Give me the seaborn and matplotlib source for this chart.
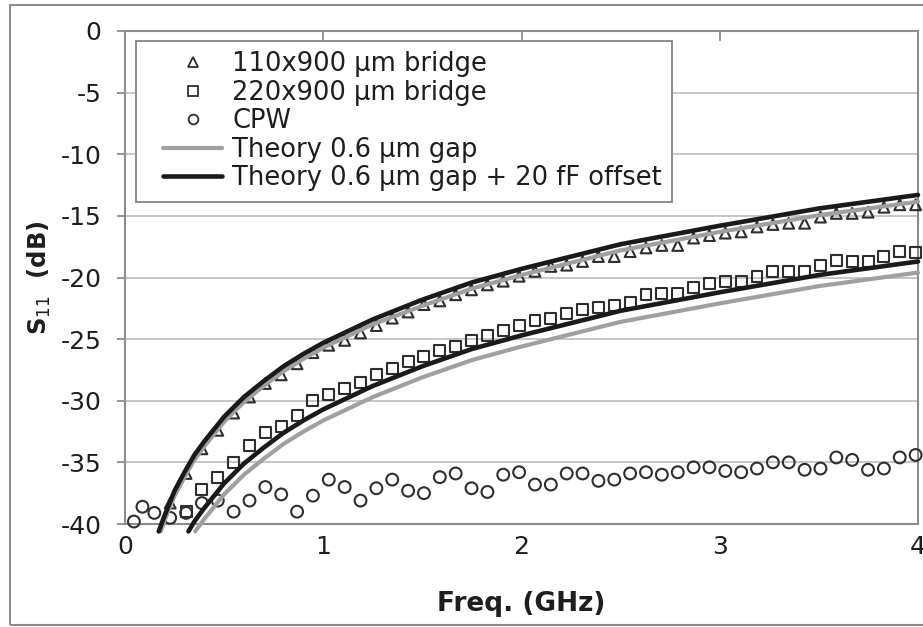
import numpy as np
import matplotlib
matplotlib.use("Agg")
import matplotlib.pyplot as plt
from matplotlib.lines import Line2D
from matplotlib.patches import Rectangle
from matplotlib.legend_handler import HandlerLine2D
import seaborn as sns

# Measurement sweep (GHz)
freq_ghz = [0.045, 0.088, 0.148, 0.228, 0.308, 0.388, 0.468, 0.548, 0.628, 0.708,
            0.788, 0.868, 0.948, 1.028, 1.108, 1.188, 1.268, 1.348, 1.428, 1.508,
            1.588, 1.668, 1.748, 1.828, 1.908, 1.988, 2.068, 2.148, 2.228, 2.308,
            2.388, 2.468, 2.548, 2.628, 2.708, 2.788, 2.868, 2.948, 3.028, 3.108,
            3.188, 3.268, 3.348, 3.428, 3.508, 3.588, 3.668, 3.748, 3.828, 3.908,
            3.988]

nan = np.nan
# Measured S11 (dB)
s11_bridge_110 = [nan, nan, nan, -38.3, -35.9, -33.9, -32.4, -31.0, -29.7, -28.6,
                  -27.9, -27.0, -26.1, -25.5, -25.1, -24.5, -23.9, -23.3, -22.8, -22.2,
                  -21.9, -21.4, -21.0, -20.6, -20.3, -19.9, -19.5, -19.1, -19.0, -18.7,
                  -18.3, -18.3, -17.9, -17.6, -17.4, -17.4, -16.8, -16.6, -16.4, -16.3,
                  -15.9, -15.7, -15.6, -15.6, -15.1, -14.8, -14.8, -14.7, -14.3, -14.1,
                  -14.1]
s11_bridge_220 = [nan, nan, nan, nan, -39.0, -37.2, -36.2, -35.0, -33.6, -32.6,
                  -32.1, -31.2, -30.0, -29.5, -29.0, -28.5, -27.9, -27.4, -26.8, -26.4,
                  -25.9, -25.6, -25.1, -24.7, -24.3, -23.9, -23.5, -23.3, -22.9, -22.6,
                  -22.4, -22.3, -22.0, -21.4, -21.3, -21.3, -20.8, -20.5, -20.3, -20.3,
                  -19.9, -19.5, -19.5, -19.5, -19.0, -18.6, -18.7, -18.7, -18.3, -17.9,
                  -18.0]
s11_cpw = [-39.8, -38.6, -39.1, -39.5, -39.1, -38.3, -38.1, -39.0, -38.1, -37.0,
           -37.6, -39.0, -37.7, -36.4, -37.0, -38.1, -37.1, -36.4, -37.3, -37.5,
           -36.2, -35.9, -37.1, -37.4, -36.0, -35.8, -36.8, -36.8, -35.9, -35.9,
           -36.5, -36.4, -35.9, -35.8, -36.0, -35.8, -35.4, -35.4, -35.7, -35.8,
           -35.5, -35.0, -35.0, -35.6, -35.5, -34.6, -34.8, -35.6, -35.5, -34.6,
           -34.4]

# Theory curves (0.6 um gap), with and without the 20 fF offset
theory_110_freq = [0.18, 0.2, 0.25, 0.3, 0.35, 0.4, 0.5, 0.6, 0.7, 0.8, 0.9, 1.0,
                   1.25, 1.5, 1.75, 2.0, 2.5, 3.0, 3.5, 4.0]
theory_110_db = [-40.6, -39.7, -37.7, -36.2, -34.8, -33.7, -31.7, -30.1, -28.8, -27.6,
                 -26.6, -25.7, -23.8, -22.3, -20.9, -19.8, -17.8, -16.3, -14.95, -13.85]
theory_110_offset_freq = [0.17, 0.2, 0.25, 0.3, 0.35, 0.4, 0.5, 0.6, 0.7, 0.8, 0.9, 1.0,
                          1.25, 1.5, 1.75, 2.0, 2.5, 3.0, 3.5, 4.0]
theory_110_offset_db = [-40.6, -39.3, -37.3, -35.8, -34.4, -33.3, -31.3, -29.7, -28.4,
                        -27.2, -26.2, -25.3, -23.4, -21.8, -20.4, -19.3, -17.3, -15.8,
                        -14.4, -13.3]
theory_220_freq = [0.354, 0.4, 0.5, 0.6, 0.7, 0.8, 0.9, 1.0, 1.25, 1.5, 1.75, 2.0,
                   2.5, 3.0, 3.5, 4.0]
theory_220_db = [-40.6, -39.6, -37.6, -36.0, -34.7, -33.5, -32.5, -31.6, -29.7, -28.1,
                 -26.7, -25.6, -23.6, -22.1, -20.7, -19.6]
theory_220_offset_freq = [0.32, 0.35, 0.4, 0.5, 0.6, 0.7, 0.8, 0.9, 1.0, 1.25, 1.5,
                          1.75, 2.0, 2.5, 3.0, 3.5, 4.0]
theory_220_offset_db = [-40.6, -39.8, -38.7, -36.7, -35.1, -33.8, -32.6, -31.6, -30.7,
                        -28.8, -27.2, -25.8, -24.7, -22.7, -21.2, -19.8, -18.7]

series_labels = ["110x900 \u03bcm bridge", "220x900 \u03bcm bridge", "CPW",
                 "Theory 0.6 \u03bcm gap", "Theory 0.6 \u03bcm gap + 20 fF offset"]
x_ticks = [0, 1, 2, 3, 4]
y_ticks = [-40, -35, -30, -25, -20, -15, -10, -5, 0]

sns.set_theme(style="white")
plt.rcParams["font.family"] = ["DejaVu Sans"]
plt.rcParams["mathtext.fontset"] = "dejavusans"
plt.rcParams["axes.unicode_minus"] = False

INK = "#1e1e1e"
MARK = "#2e2e2e"
FRAME = "#8c8c8c"
GRID = "#c6c6c6"
GRAY_LINE = "#a0a0a0"
BLACK_LINE = "#1a1a1a"

fig = plt.figure(figsize=(9.23, 6.27), dpi=100)
ax = fig.add_axes([125 / 923, 1 - 524 / 627, (918 - 125) / 923, (524 - 31) / 627])

# Measured points (open markers)
marker_kw = dict(facecolor="none", linewidth=1.5, clip_on=False, legend=False, ax=ax)
sns.scatterplot(x=freq_ghz, y=s11_bridge_110, marker="^", s=60, edgecolor=MARK,
                zorder=3, **marker_kw)
sns.scatterplot(x=freq_ghz, y=s11_bridge_220, marker="s", s=62, edgecolor=MARK,
                zorder=3, **marker_kw)
sns.scatterplot(x=freq_ghz, y=s11_cpw, marker="o", s=72, edgecolor=MARK,
                zorder=3, **marker_kw)

# Theory curves
line_kw = dict(estimator=None, sort=False, clip_on=False, legend=False, ax=ax)
sns.lineplot(x=theory_110_freq, y=theory_110_db, color=GRAY_LINE, lw=3.0, zorder=4, **line_kw)
sns.lineplot(x=theory_220_freq, y=theory_220_db, color=GRAY_LINE, lw=3.0, zorder=4, **line_kw)
sns.lineplot(x=theory_110_offset_freq, y=theory_110_offset_db, color=BLACK_LINE, lw=3.3,
             zorder=5, **line_kw)
sns.lineplot(x=theory_220_offset_freq, y=theory_220_offset_db, color=BLACK_LINE, lw=3.3,
             zorder=5, **line_kw)

ax.set_xlim(0, 4)
ax.set_ylim(-40, 0)
ax.set_xticks(x_ticks)
ax.set_yticks(y_ticks)
ax.set_xticklabels([str(t) for t in x_ticks])
ax.set_yticklabels([str(t) for t in y_ticks])

ax.yaxis.grid(True, color=GRID, lw=1.4)
ax.xaxis.grid(False)
ax.set_axisbelow(True)
for sp in ax.spines.values():
    sp.set_visible(True)
    sp.set_color(FRAME)
    sp.set_linewidth(1.5)

ax.tick_params(axis="y", direction="out", length=6, width=1.3, color=FRAME,
               labelsize=18, labelcolor=INK, pad=11, left=True)
ax.tick_params(axis="x", which="both", bottom=False, top=True, direction="in",
               length=7, width=1.3, color=FRAME, labelsize=18, labelcolor=INK, pad=8)

ax.set_xlabel("Freq. (GHz)", fontsize=19, fontweight="bold", color=INK, labelpad=23)
ax.set_ylabel(r"$\mathbf{S}_{11}$  (dB)", fontsize=17.5, fontweight="bold", color=INK,
              labelpad=5)

handles = [
    Line2D([], [], ls="none", marker="^", ms=7, mfc="none", mec=MARK, mew=1.3),
    Line2D([], [], ls="none", marker="s", ms=7, mfc="none", mec=MARK, mew=1.3),
    Line2D([], [], ls="none", marker="o", ms=7, mfc="none", mec=MARK, mew=1.3),
    Line2D([], [], color=GRAY_LINE, lw=3.0),
    Line2D([], [], color=BLACK_LINE, lw=3.3),
]
leg_fs = 18.5
leg_px = leg_fs * 100 / 72
pad_em = 0.4
# handles drawn from x=163 to x=222 px, with the box edge at x=136 px
handle_xpad = (163 - 136) / leg_px - pad_em
handle_len = (222 - 136) / leg_px - pad_em
leg = ax.legend(handles, series_labels, loc="upper left", bbox_to_anchor=(0.014, 0.98),
                frameon=True, fancybox=False, edgecolor=FRAME, framealpha=1,
                borderaxespad=0, handlelength=handle_len, handletextpad=0.4,
                labelspacing=0.1, borderpad=pad_em, fontsize=leg_fs,
                handler_map={Line2D: HandlerLine2D(xpad=handle_xpad)})
leg.get_frame().set_linewidth(1.4)
for t in leg.get_texts():
    t.set_color(INK)
leg.set_zorder(10)

# Outer border around the figure
fig.patches.append(Rectangle((10 / 923, 2 / 627), 1.0, 1 - 7 / 627, transform=fig.transFigure,
                             fill=False, edgecolor=FRAME, lw=1.5, clip_on=True))

fig.savefig("out.png", dpi=100)
